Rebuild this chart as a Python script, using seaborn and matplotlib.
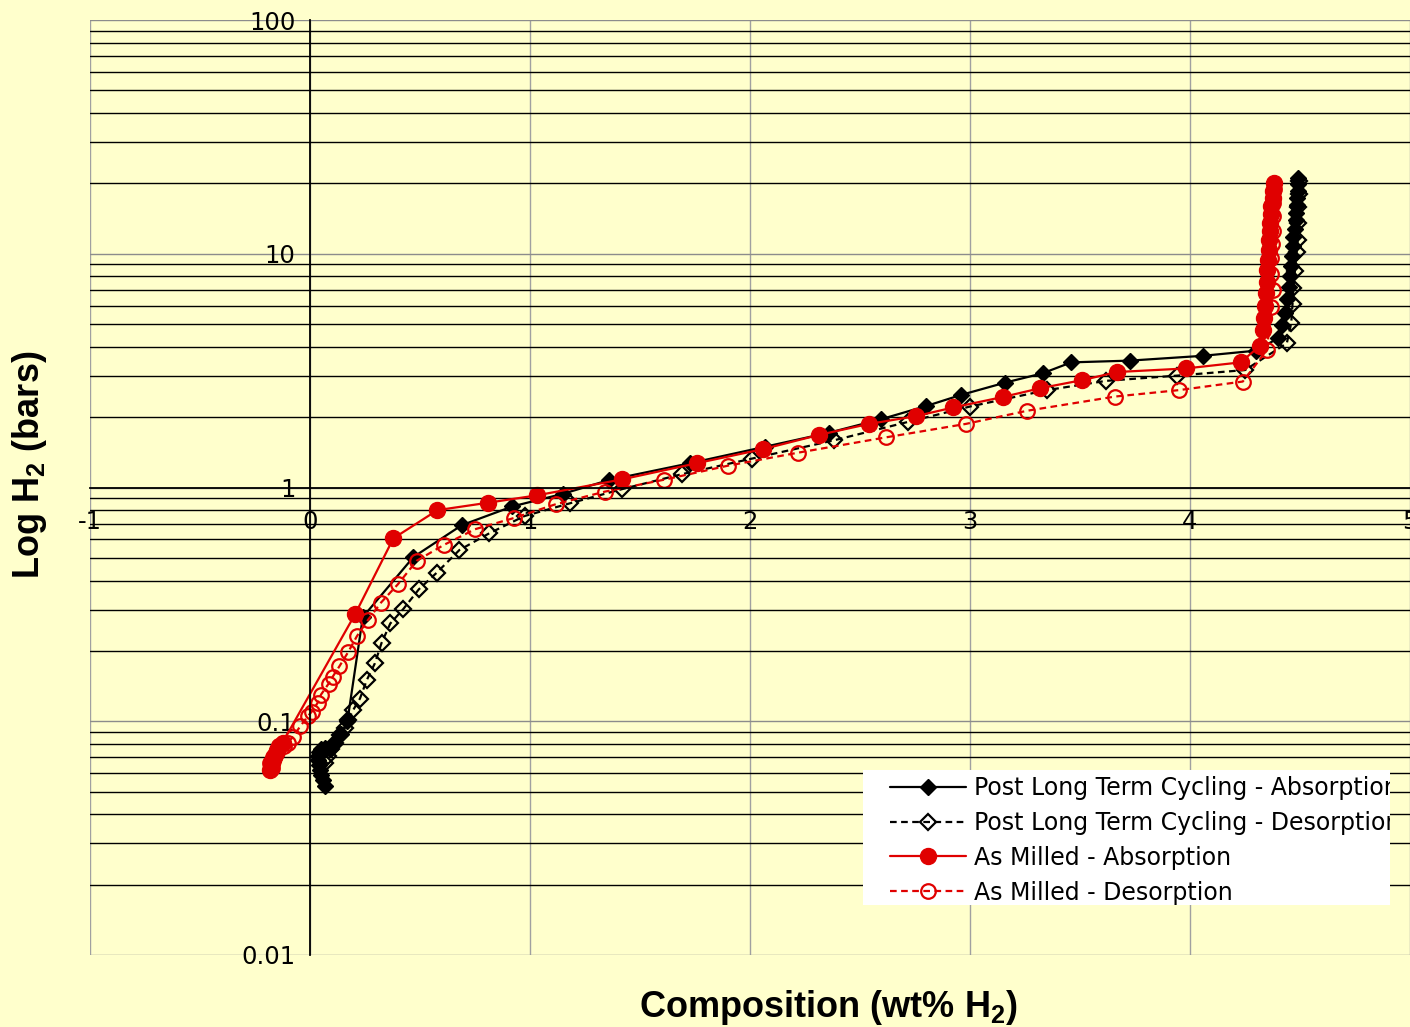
import matplotlib
matplotlib.use("Agg")
import matplotlib.pyplot as plt
import seaborn as sns
from matplotlib.ticker import LogLocator, FixedLocator, NullFormatter
from matplotlib.patches import Rectangle
from matplotlib.transforms import Bbox, TransformedBbox

# --- data ---
series_labels = [
    "Post Long Term Cycling - Absorption",
    "Post Long Term Cycling - Desorption",
    "As Milled - Absorption",
    "As Milled - Desorption",
]

plc_abs_x = [0.07, 0.06, 0.05, 0.045, 0.04, 0.035, 0.035, 0.04, 0.05, 0.07, 0.09,
             0.11, 0.14, 0.17, 0.24, 0.47, 0.69, 0.92, 1.15, 1.36, 1.727, 2.07,
             2.36, 2.594, 2.80, 2.96, 3.16, 3.33, 3.46, 3.727, 4.06, 4.30, 4.40,
             4.42, 4.43, 4.44, 4.45, 4.455, 4.46, 4.465, 4.47, 4.47, 4.475, 4.48,
             4.48, 4.485, 4.485, 4.49, 4.49, 4.49]
plc_abs_y = [0.053, 0.056, 0.059, 0.062, 0.065, 0.068, 0.071, 0.074, 0.076, 0.077, 0.076,
             0.080, 0.088, 0.100, 0.279, 0.504, 0.69, 0.83, 0.94, 1.077, 1.27, 1.495,
             1.717, 1.957, 2.23, 2.49, 2.81, 3.08, 3.43, 3.49, 3.66, 3.85, 4.35,
             4.95, 5.6, 6.4, 7.2, 8.0, 8.9, 9.8, 10.8, 11.8, 12.8, 13.9,
             15.0, 16.2, 17.4, 18.6, 19.8, 21.0]

plc_des_x = [4.495, 4.495, 4.49, 4.49, 4.49, 4.485, 4.477, 4.47, 4.466, 4.46, 4.44,
             4.25, 3.94, 3.62, 3.35, 3.0, 2.72, 2.38, 2.01, 1.69, 1.42, 1.18,
             0.975, 0.815, 0.679, 0.576, 0.495, 0.424, 0.365, 0.325, 0.295, 0.258,
             0.227, 0.197, 0.173, 0.16, 0.136, 0.114, 0.095, 0.08, 0.07]
plc_des_y = [20.5, 18.0, 15.8, 13.5, 11.5, 10.2, 8.46, 7.11, 6.1, 5.04, 4.14,
             3.18, 3.01, 2.86, 2.61, 2.22, 1.91, 1.59, 1.33, 1.14, 0.985, 0.855,
             0.755, 0.637, 0.54, 0.432, 0.367, 0.302, 0.262, 0.216, 0.177, 0.150,
             0.125, 0.112, 0.101, 0.094, 0.087, 0.081, 0.076, 0.071, 0.066]

am_abs_x = [-0.18, -0.178, -0.175, -0.17, -0.165, -0.16, -0.15, -0.14, -0.125,
            0.205, 0.379, 0.579, 0.81, 1.033, 1.42, 1.758, 2.06, 2.315, 2.54,
            2.755, 2.924, 3.15, 3.32, 3.51, 3.67, 3.98, 4.23, 4.32, 4.33, 4.335,
            4.34, 4.345, 4.35, 4.35, 4.355, 4.36, 4.36, 4.365, 4.365, 4.37, 4.37,
            4.375, 4.375, 4.38]
am_abs_y = [0.062, 0.064, 0.066, 0.068, 0.070, 0.072, 0.075, 0.078, 0.081,
            0.287, 0.606, 0.80, 0.861, 0.926, 1.084, 1.27, 1.46, 1.68, 1.87,
            2.02, 2.2, 2.44, 2.66, 2.88, 3.12, 3.23, 3.43, 4.05, 4.7, 5.3,
            6.0, 6.8, 7.6, 8.5, 9.4, 10.4, 11.4, 12.5, 13.6, 14.8, 16.0,
            17.3, 18.6, 20.0]

am_des_x = [4.38, 4.378, 4.375, 4.375, 4.372, 4.37, 4.37, 4.375, 4.37, 4.35, 4.24,
            3.95, 3.66, 3.26, 2.98, 2.62, 2.22, 1.90, 1.61, 1.34, 1.12, 0.926,
            0.75, 0.607, 0.485, 0.399, 0.323, 0.262, 0.213, 0.174, 0.134, 0.103,
            0.085, 0.05, 0.035, 0.008, -0.01, -0.045, -0.076, -0.1, -0.12, -0.15,
            -0.17, -0.18, -0.175]
am_des_y = [19.0, 16.5, 14.5, 12.5, 11.0, 9.6, 8.2, 7.0, 5.94, 3.87, 2.84,
            2.61, 2.45, 2.13, 1.87, 1.64, 1.41, 1.24, 1.08, 0.96, 0.85, 0.74,
            0.663, 0.567, 0.486, 0.385, 0.322, 0.27, 0.231, 0.198, 0.172, 0.155,
            0.145, 0.13, 0.12, 0.11, 0.105, 0.095, 0.086, 0.081, 0.078, 0.074,
            0.07, 0.066, 0.063]

x_ticks = [-1, 0, 1, 2, 3, 4, 5]
x_tick_labels = ["-1", "0", "1", "2", "3", "4", "5"]
y_ticks = [0.01, 0.1, 1, 10, 100]
y_tick_labels = ["0.01", "0.1", "1", "10", "100"]

# --- style ---
sns.set_theme(style="white")
plt.rcParams["font.family"] = ["DejaVu Sans"]
plt.rcParams["text.color"] = "black"
plt.rcParams["axes.labelcolor"] = "black"
plt.rcParams["xtick.color"] = "black"
plt.rcParams["ytick.color"] = "black"
plt.rcParams["mathtext.fontset"] = "custom"
plt.rcParams["mathtext.bf"] = "Liberation Sans:bold"
plt.rcParams["mathtext.rm"] = "Liberation Sans"

BG = "#FFFFCC"
RED = "#E00000"
W, H = 1410, 1027

fig = plt.figure(figsize=(14.1, 10.27), dpi=100, facecolor=BG)
ax = fig.add_axes([90 / W, 1 - 955 / H, 1320 / W, 935 / H])
ax.set_facecolor(BG)
ax.set_yscale("log")
ax.set_xlim(-1, 5)
ax.set_ylim(0.01, 100)

# series
sns.lineplot(x=plc_abs_x, y=plc_abs_y, sort=False, estimator=None, ax=ax,
             color="black", lw=1.6, marker="D", markersize=8.5,
             markerfacecolor="black", markeredgecolor="black", markeredgewidth=1.0,
             label=series_labels[0])
sns.lineplot(x=plc_des_x, y=plc_des_y, sort=False, estimator=None, ax=ax,
             color="black", lw=1.6, linestyle=(0, (3, 2)), marker="D", markersize=8,
             markerfacecolor="none", markeredgecolor="black", markeredgewidth=1.6,
             label=series_labels[1])
sns.lineplot(x=am_abs_x, y=am_abs_y, sort=False, estimator=None, ax=ax,
             color=RED, lw=1.6, marker="o", markersize=11.5,
             markerfacecolor=RED, markeredgecolor=RED, markeredgewidth=1.0,
             label=series_labels[2])
sns.lineplot(x=am_des_x, y=am_des_y, sort=False, estimator=None, ax=ax,
             color=RED, lw=1.6, linestyle=(0, (3, 2)), marker="o", markersize=10.5,
             markerfacecolor="none", markeredgecolor=RED, markeredgewidth=1.6,
             label=series_labels[3])

# grid
ax.set_axisbelow(True)
ax.yaxis.set_minor_locator(LogLocator(base=10, subs=range(2, 10)))
ax.yaxis.set_minor_formatter(NullFormatter())
ax.grid(which="minor", axis="y", color="black", lw=1.0)
ax.grid(which="major", axis="y", color="#8C8C8C", lw=1.0)
ax.grid(which="major", axis="x", color="#A0A0A0", lw=1.0)

# axes crossing at x=0 and y=1
ax.spines["left"].set_position(("data", 0))
ax.spines["bottom"].set_position(("data", 1))
for s in ["left", "bottom"]:
    ax.spines[s].set_color("black")
    ax.spines[s].set_linewidth(1.3)
ax.spines["top"].set_visible(False)
ax.spines["right"].set_visible(False)

ax.xaxis.set_major_locator(FixedLocator(x_ticks))
ax.set_xticklabels(x_tick_labels)
ax.yaxis.set_major_locator(FixedLocator(y_ticks))
ax.set_yticklabels(y_tick_labels)
ax.tick_params(axis="both", which="major", direction="out", length=5.5, width=1,
               color="black", labelsize=17.5, labelcolor="black")
ax.tick_params(axis="x", pad=11)
ax.tick_params(axis="y", pad=5)
ax.tick_params(which="minor", length=0)
ax.set_xlabel("")
ax.set_ylabel("")

# axis titles
fig.text(828 / W, 1 - 1017 / H, r"Composition (wt% H$_\mathbf{2}$)",
         ha="center", va="baseline", fontsize=26, fontweight="bold",
         family="Liberation Sans", color="black")
fig.text(30 / W, 1 - 465 / H, r"Log H$_\mathbf{2}$ (bars)", rotation=90,
         ha="center", va="center", fontsize=26, fontweight="bold",
         family="Liberation Sans", color="black")

# legend on white box
ax.add_patch(Rectangle((863 / W, 1 - 905 / H), (1390 - 863) / W, (905 - 770) / H,
                       transform=fig.transFigure, facecolor="white",
                       edgecolor="none", zorder=4.9, clip_on=False))
handles, labels = ax.get_legend_handles_labels()
leg = ax.legend(handles, labels, loc="upper left",
                bbox_to_anchor=(890 / W, 1 - 776 / H), bbox_transform=fig.transFigure,
                frameon=False, fontsize=17, handlelength=3.2, handletextpad=0.35,
                labelspacing=0.46, borderpad=0, borderaxespad=0)
clip = TransformedBbox(Bbox.from_extents(863 / W, 0, 1390 / W, 1), fig.transFigure)
for t in leg.get_texts():
    t.set_color("black")
    t.set_clip_box(clip)
    t.set_clip_on(True)

fig.savefig("out.png", dpi=100, facecolor=BG)
